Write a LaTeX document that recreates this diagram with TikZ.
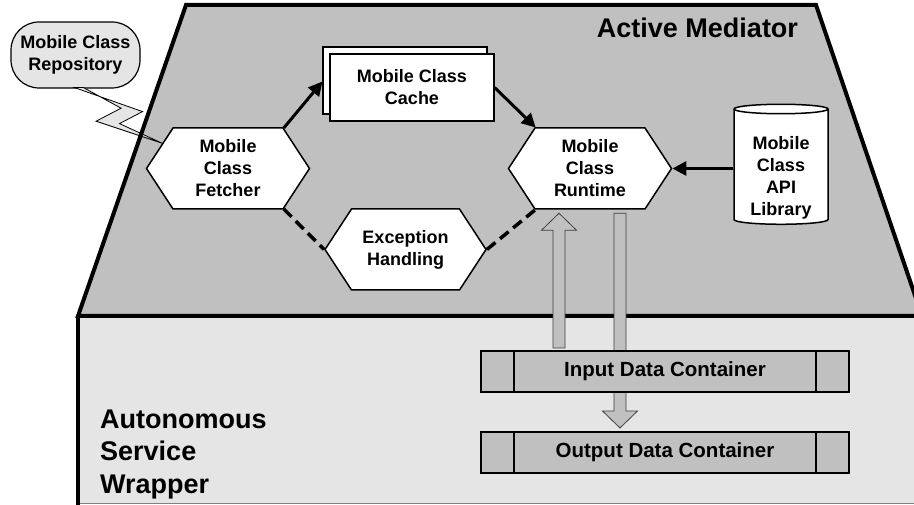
\documentclass[tikz,border=0pt]{standalone}
\usepackage{fontspec}
\setmainfont{Liberation Sans}
\usetikzlibrary{shapes.symbols,shapes.geometric,shadows,calc,arrows.meta}
\definecolor{medgray}{HTML}{C0C0C0}
\definecolor{wrapgray}{HTML}{E5E5E5}
\definecolor{edgegray}{HTML}{404040}
\tikzset{
  hexa/.style={signal, signal to=east and west, signal pointer angle=113.6,
    draw, fill=white, line width=1.5pt, minimum width=163pt, minimum height=81pt,
    inner sep=1pt, align=center, font=\bfseries\fontsize{18}{22}\selectfont},
  cachebox/.style={draw, fill=white, line width=1.2pt, minimum width=164pt,
    minimum height=67pt, align=center, font=\bfseries\fontsize{18}{22}\selectfont,
    copy shadow={shadow xshift=-7pt, shadow yshift=7pt, fill=white, draw=black, line width=1.2pt}},
  libstore/.style={cylinder, shape border rotate=90, aspect=0.15, draw, fill=white,
    line width=1.5pt, minimum width=94pt, minimum height=120pt, inner sep=1pt,
    text height=99pt, align=center, font=\bfseries\fontsize{18}{22}\selectfont},
  repobox/.style={draw, fill=wrapgray, rounded corners=28pt, line width=1.2pt,
    minimum width=129pt, minimum height=66pt, inner sep=1pt, align=center,
    font=\bfseries\fontsize{18}{22}\selectfont},
  container/.style={draw, fill=medgray, line width=1.2pt, minimum width=368pt,
    minimum height=41pt, inner sep=0pt, font=\bfseries\fontsize{20.5}{24}\selectfont,
    path picture={\draw[line width=1.2pt]
      ([xshift=33pt]path picture bounding box.north west) -- ([xshift=33pt]path picture bounding box.south west)
      ([xshift=-33pt]path picture bounding box.north east) -- ([xshift=-33pt]path picture bounding box.south east);}},
  bolt/.style={draw, fill=wrapgray, line width=0.8pt, line join=miter},
  flow/.style={line width=3pt, -{Triangle[length=14pt,width=14pt]}},
  dashflow/.style={line width=3.5pt, dash pattern=on 11pt off 6pt},
  blockarrow/.style={fill=medgray, draw=edgegray, line width=0.8pt},
  title/.style={font=\bfseries\fontsize{27}{32.5}\selectfont, inner sep=0pt}
}
\newcommand{\blockarrow}[2]{%
  \draw[blockarrow] let \p1=(#1), \p2=(#2), \p3=($(#2)!17pt!(#1)$) in
    (\x1-6pt,\y1) -- (\x1-6pt,\y3) -- (\x1-17.5pt,\y3) -- (\x2,\y2)
    -- (\x1+17.5pt,\y3) -- (\x1+6pt,\y3) -- (\x1+6pt,\y1) -- cycle;}
\begin{document}
\begin{tikzpicture}[x=1pt,y=-1pt]
\useasboundingbox (0,0) rectangle (914,505);

% wrapper
\fill[wrapgray] (78,316) rectangle (935,503);
\draw[gray, line width=1pt] (78,503.5) -- (914,503.5);
\draw[line width=4pt] (78,316) -- (78,510);
\node[title, align=left, anchor=base west] (wraplabel) at (100,493) {Autonomous\\Service\\Wrapper};

% mediator
\fill[medgray] (186,5) -- (816,5) -- (922,316) -- (78,316) -- cycle;
\node[title, anchor=base] (medlabel) at (697.5,38) {Active Mediator};

\node[repobox] (repo) at (75.5,55) {Mobile Class\\Repository};
\node[hexa] (fetch) at (228,168.5) {Mobile\\Class\\Fetcher};
\draw[bolt] ($(repo.south)+(-1,-1)$) -- ++(68,24) -- ++(-23,12) -- (fetch.159.5)
  -- ++(-66,-22) -- ++(25,-13) -- ($(repo.south)+(8,-1)$) -- cycle;
\draw[line width=4pt, line join=miter] (186,5) -- (816,5) -- (922,316) -- (78,316) -- cycle;

\node[hexa] (rt) at (590,168.5) {Mobile\\Class\\Runtime};
\node[hexa, minimum width=161pt] (exc) at (405.5,249.5) {Exception\\Handling};
\node[cachebox] (cache) at (412,87.5) {Mobile Class\\Cache};
\node[libstore] (lib) at (781,167.5) {Mobile\\Class\\API\\Library};

\draw[flow] (fetch.36.4) -- ([xshift=-7pt,yshift=6pt]cache.west);
\draw[flow] (cache.east) -- (rt.143.6);
\draw[flow] (lib.west |- rt.east) -- (rt.east);
\draw[dashflow] (fetch.-36.4) -- (exc.west);
\draw[dashflow] (exc.east) -- (rt.-143.6);

% data flow
\coordinate (upTip) at ($(rt.south)+(-31,3.5)$);
\coordinate (upFoot) at (559,348);
\coordinate (dnTop) at ($(rt.south)+(30,3.5)$);
\coordinate (dnTip) at (620,428);
\blockarrow{upFoot}{upTip}
\blockarrow{dnTop}{dnTip}

\node[container] (inC) at (665,371.5) {Input Data Container};
\node[container] (outC) at (665,452.5) {Output Data Container};
\end{tikzpicture}
\end{document}
